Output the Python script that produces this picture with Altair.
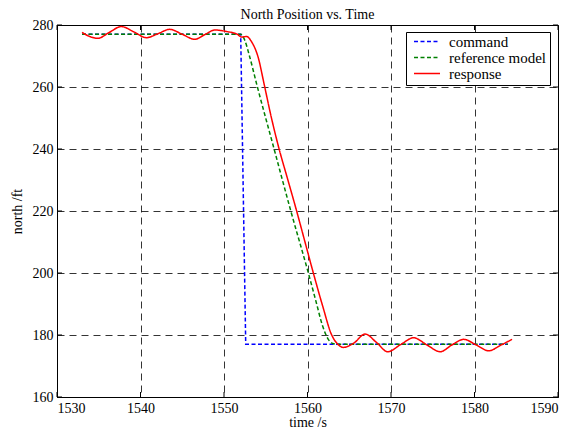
import altair as alt
import pandas as pd

# ---- data ----
title_text = "North Position vs. Time"

cmd_t = [1533.0, 1552.0, 1552.6, 1584.0]
cmd_v = [277.0, 277.0, 177.0, 177.0]

ref_t = [1533.0, 1552.0, 1552.5, 1553.0, 1554.0, 1556.0, 1558.0, 1560.0, 1561.0, 1561.8, 1562.4, 1563.0, 1563.6, 1584.0]
ref_v = [277.0, 277.0, 275.0, 270.5, 260.0, 240.0, 220.0, 201.0, 191.0, 183.0, 179.0, 177.3, 177.0, 177.0]

resp_t = [1533.0, 1534.0, 1534.9, 1536.2, 1537.7, 1539.2, 1540.7, 1542.1, 1543.5, 1545.0,
          1546.5, 1547.7, 1548.9, 1550.3, 1551.6, 1552.1, 1552.7, 1553.3, 1554.1, 1554.8,
          1555.6, 1556.6, 1557.6, 1558.7, 1559.7, 1560.7, 1561.8, 1562.9, 1563.5, 1564.3,
          1565.5, 1566.9, 1568.3, 1569.6, 1571.2, 1572.7, 1574.3, 1575.9, 1577.3, 1578.7,
          1580.2, 1581.7, 1583.2, 1584.5]
resp_v = [277.6, 276.2, 275.7, 277.5, 279.5, 277.8, 275.9, 277.2, 278.6, 277.0,
          275.4, 276.9, 278.4, 277.9, 277.0, 276.1, 276.3, 274.6, 269.5, 261.0,
          251.0, 240.0, 230.5, 220.0, 210.0, 200.0, 189.5, 180.0, 177.4, 176.0,
          177.3, 180.3, 177.5, 174.6, 177.0, 179.1, 176.8, 174.6, 176.8, 178.6,
          176.8, 174.9, 176.8, 178.6]

x_ticks = [1530, 1540, 1550, 1560, 1570, 1580, 1590]
y_ticks = [160, 180, 200, 220, 240, 260, 280]

series = ["command", "reference model", "response"]
colors = ["#0000ff", "#008000", "#ff0000"]
dashes = [[4, 2.5], [4, 2.5], [1, 0]]

W, H = 501, 372
FONT = "Times New Roman, Liberation Serif, serif"

df = pd.concat([
    pd.DataFrame({"t": cmd_t, "v": cmd_v, "s": "command"}),
    pd.DataFrame({"t": ref_t, "v": ref_v, "s": "reference model"}),
    pd.DataFrame({"t": resp_t, "v": resp_v, "s": "response"}),
])
xt = pd.DataFrame({"t": x_ticks})
yt = pd.DataFrame({"v": y_ticks})

xscale = alt.Scale(domain=[1530, 1590], nice=False, zero=False)
yscale = alt.Scale(domain=[160, 280], nice=False, zero=False)
cscale = alt.Scale(domain=series, range=colors)
dscale = alt.Scale(domain=series, range=dashes)

xaxis = alt.Axis(values=x_ticks, grid=True, gridDash=[7, 5], gridColor="black", gridOpacity=1,
                 gridWidth=0.8, ticks=False, labelPadding=4, domainColor="black",
                 labelFont=FONT, labelFontSize=14, labelColor="black", titleFont=FONT,
                 titleFontSize=14, titleFontWeight="normal", titleColor="black", titlePadding=0,
                 format="d")
yaxis = alt.Axis(values=y_ticks, grid=True, gridDash=[7, 5], gridColor="black", gridOpacity=1,
                 gridWidth=0.8, ticks=False, labelPadding=4, domainColor="black",
                 labelFont=FONT, labelFontSize=14, labelColor="black", titleFont=FONT,
                 titleFontSize=14, titleFontWeight="normal", titleColor="black", titlePadding=8,
                 format="d")

legend = alt.Legend(title=None, orient="none", legendX=349, legendY=7,
                    strokeColor="black", fillColor="white", padding=3, rowPadding=0,
                    symbolType="stroke", symbolSize=676, symbolStrokeWidth=1.5,
                    symbolOffset=4, clipHeight=13,
                    labelFont=FONT, labelFontSize=15, labelColor="black", labelOffset=8,
                    cornerRadius=0)

def layer(name, interp):
    return alt.Chart(df).transform_filter(alt.datum.s == name).mark_line(
        strokeWidth=1.5, interpolate=interp).encode(
        x=alt.X("t:Q", scale=xscale, axis=xaxis, title="time /s"),
        y=alt.Y("v:Q", scale=yscale, axis=yaxis, title="north /ft"),
        color=alt.Color("s:N", scale=cscale, legend=legend, sort=series),
        strokeDash=alt.StrokeDash("s:N", scale=dscale, legend=legend, sort=series),
    )

cmd_layer = layer("command", "linear")
ref_layer = layer("reference model", "monotone")
resp_layer = layer("response", "monotone")

tick_len = 5
ytick_l = alt.Chart(yt).mark_rule(color="black", strokeWidth=1).encode(
    y=alt.Y("v:Q", scale=yscale, title="north /ft"), x=alt.value(0), x2=alt.value(tick_len))
ytick_r = alt.Chart(yt).mark_rule(color="black", strokeWidth=1).encode(
    y=alt.Y("v:Q", scale=yscale, title="north /ft"), x=alt.value(W - tick_len), x2=alt.value(W))
xtick_b = alt.Chart(xt).mark_rule(color="black", strokeWidth=1).encode(
    x=alt.X("t:Q", scale=xscale, title="time /s"), y=alt.value(H - tick_len), y2=alt.value(H))
xtick_t = alt.Chart(xt).mark_rule(color="black", strokeWidth=1).encode(
    x=alt.X("t:Q", scale=xscale, title="time /s"), y=alt.value(0), y2=alt.value(tick_len))

title_layer = alt.Chart(alt.Data(values=[{"label": title_text}])).mark_text(
    font=FONT, fontSize=14, color="black", align="center", baseline="alphabetic").encode(
    text="label:N", x=alt.value(W / 2), y=alt.value(-6.5))

chart = alt.layer(ytick_l, ytick_r, xtick_b, xtick_t, cmd_layer, ref_layer, resp_layer,
                  title_layer).properties(
    width=W, height=H,
    autosize=alt.AutoSizeParams(type="none"),
    padding={"left": 49, "top": 17, "right": 16, "bottom": 33},
    background="white",
).configure_view(stroke="black", strokeWidth=1)

chart.save("out.html", embed_options={"renderer": "svg", "actions": False})
